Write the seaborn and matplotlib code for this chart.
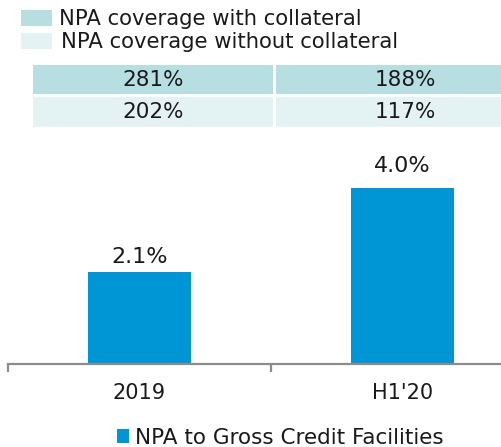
import matplotlib
matplotlib.use("Agg")
import matplotlib.pyplot as plt
from matplotlib.patches import Rectangle, Patch
import seaborn as sns
import pandas as pd

# ---- data ----
categories = ["2019", "H1'20"]
npa_ratio = [2.1, 4.0]
bar_labels = ["2.1%", "4.0%"]
coverage_with = ["281%", "188%"]
coverage_without = ["202%", "117%"]
legend_top = ["NPA coverage with collateral", "NPA coverage without collateral"]
series_name = "NPA to Gross Credit Facilities"

BAR = "#0096d6"
ROW1 = "#b7dfe2"
ROW2 = "#e5f2f3"
GRAY = "#8c8c8c"
TXT = "#1a1a1a"

sns.set_theme(style="white")
plt.rcParams["font.family"] = ["DejaVu Sans"]

W, H = 502, 447
fig = plt.figure(figsize=(W / 100, H / 100), dpi=100)

def fx(px):
    return px / W

def fy(py):
    return 1 - py / H

# axes: baseline at y=364 px, left edge at x=8 px, 263 px per category
cat_w = 263.0
x0 = 8
ax = fig.add_axes([fx(x0), fy(364), (W - x0) / W, 220 / H])
df = pd.DataFrame({"cat": categories, "val": npa_ratio})
sns.barplot(data=df, x="cat", y="val", color=BAR, width=103 / cat_w,
            saturation=1, ax=ax, edgecolor="none")
for s in ["left", "top", "right"]:
    ax.spines[s].set_visible(False)
ax.spines["bottom"].set_color(GRAY)
ax.spines["bottom"].set_linewidth(1.6)
ax.set_yticks([])
ax.set_xlabel("")
ax.set_ylabel("")
ax.set_xticks([-0.5, 0.5, 1.5])
ax.set_xticklabels([])
ax.tick_params(axis="x", which="major", length=6, width=1.6, color=GRAY,
               direction="out", bottom=True)
ax.set_xticks([0, 1], minor=True)
ax.set_xticklabels(categories, minor=True, fontsize=15, color=TXT)
ax.tick_params(axis="x", which="minor", length=0, pad=14)
ax.set_xlim(-0.5, -0.5 + (W - x0) / cat_w)
ax.set_ylim(0, 5)

label_gap_pt = [6.5, 11.5]
for i, (v, lab) in enumerate(zip(npa_ratio, bar_labels)):
    ax.annotate(lab, (i, v), xytext=(0, label_gap_pt[i]), textcoords="offset points",
                ha="center", va="baseline", fontsize=16, color=TXT)

# ---- coverage table ----
cells = [(33, 273), (276, 520)]
rows = [(65, 94, ROW1, coverage_with), (97, 127, ROW2, coverage_without)]
for (y_top, y_bot, col, vals) in rows:
    for (xa, xb), txt in zip(cells, vals):
        fig.patches.append(Rectangle((fx(xa), fy(y_bot)), (xb - xa) / W,
                                     (y_bot - y_top) / H, transform=fig.transFigure,
                                     facecolor=col, edgecolor="none", zorder=0))
    fig.text(fx(153), fy((y_top + y_bot) / 2), vals[0], ha="center",
             va="center", fontsize=15.5, color=TXT)
    fig.text(fx(405), fy((y_top + y_bot) / 2), vals[1], ha="center",
             va="center", fontsize=15.5, color=TXT)

# ---- top key ----
keys = [(10, 26, ROW1, 59, legend_top[0]), (33, 49, ROW2, 61, legend_top[1])]
for (y_top, y_bot, col, tx, txt) in keys:
    fig.patches.append(Rectangle((fx(21), fy(y_bot)), 31 / W, (y_bot - y_top) / H,
                                 transform=fig.transFigure, facecolor=col,
                                 edgecolor="none"))
    fig.text(fx(tx), fy((y_top + y_bot) / 2 + 1), txt, ha="left", va="center",
             fontsize=15.2, color=TXT)

# ---- bottom legend ----
fig.legend(handles=[Patch(facecolor=BAR, edgecolor="none", label=series_name)],
           loc="center", bbox_to_anchor=(fx(280), fy(437.5)), frameon=False,
           fontsize=15.5, handlelength=0.6, handleheight=0.6, handletextpad=0.25,
           borderpad=0, labelcolor=TXT)

fig.savefig("out.png", dpi=100)
